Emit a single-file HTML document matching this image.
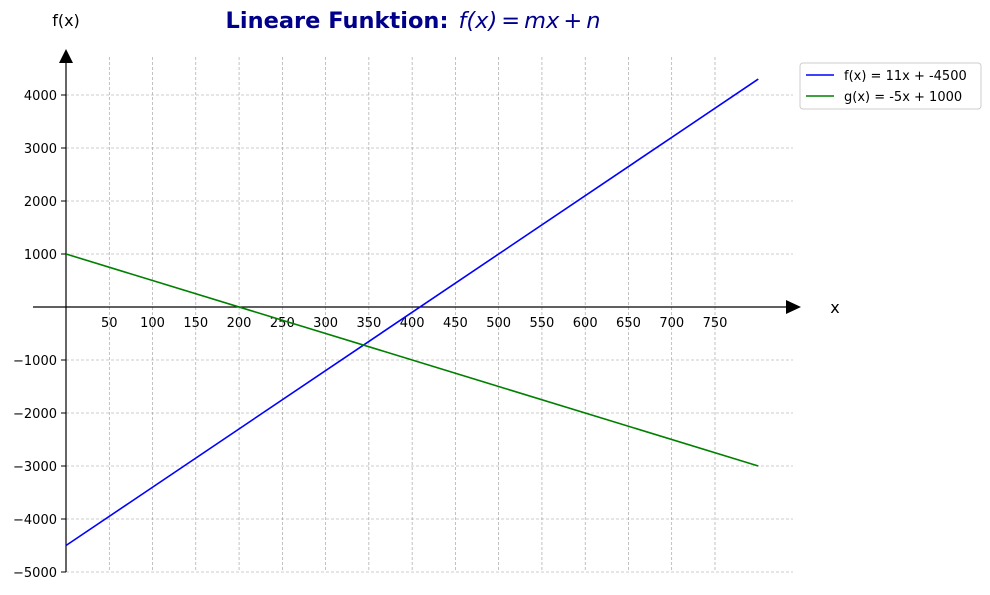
<!DOCTYPE html>
<html><head><meta charset="utf-8"><style>
body{margin:0;background:#fff;width:990px;height:590px;overflow:hidden}
text{font-family:"DejaVu Sans","Liberation Sans",sans-serif}
</style></head><body>
<svg id="chart" width="990" height="590" xmlns="http://www.w3.org/2000/svg">
<g id="grid"></g>
<g id="axes"></g>
<g id="series"></g>
<text x="413" y="28" text-anchor="middle" font-size="22.5" fill="#00008b"><tspan font-weight="bold">Lineare Funktion:</tspan><tspan font-style="italic" dx="10">f(x)</tspan><tspan dx="4">=</tspan><tspan font-style="italic" dx="4">mx</tspan><tspan dx="4">+</tspan><tspan font-style="italic" dx="4">n</tspan></text>
<text x="66" y="26" text-anchor="middle" font-size="16">f(x)</text>
<text x="835" y="313" text-anchor="middle" font-size="16">x</text>
<g>
<rect x="800" y="63" width="181" height="46" rx="3" fill="#fff" stroke="#ccc"/>
<g><line x1="806" y1="75" x2="834" y2="75" stroke="blue" stroke-width="1.5"/><text x="844" y="80" font-size="13">f(x) = 11x + -4500</text></g>
<g><line x1="806" y1="96" x2="834" y2="96" stroke="green" stroke-width="1.5"/><text x="844" y="101" font-size="13">g(x) = -5x + 1000</text></g>
</g>
</svg>
<script>
const xTicks=[50,100,150,200,250,300,350,400,450,500,550,600,650,700,750];
const yTicks=[-5000,-4000,-3000,-2000,-1000,1000,2000,3000,4000];
const slopes=[11,-5];
const intercepts=[-4500,1000];
const seriesColors=["blue","green"];
const xDomain=[0,800];
const NS="http://www.w3.org/2000/svg";
const sx=v=>66+v*(649/750);
const sy=v=>307-v*0.053;
function mk(tag,attrs,parent,txt){const e=document.createElementNS(NS,tag);for(const k in attrs)e.setAttribute(k,attrs[k]);if(txt!==undefined)e.textContent=txt;parent.appendChild(e);return e;}
const grid=document.getElementById('grid'),axes=document.getElementById('axes'),ser=document.getElementById('series');
xTicks.forEach(t=>{
 const l=mk('line',{x1:sx(t),x2:sx(t),y1:57,y2:572,stroke:'#999','stroke-width':0.6,'stroke-dasharray':'3,2'},grid);
 
 
 const tx=mk('text',{x:sx(t),y:327,'text-anchor':'middle','font-size':13},axes,String(t));
 
 
});
yTicks.forEach(t=>{
 const l=mk('line',{x1:66,x2:793,y1:sy(t),y2:sy(t),stroke:'#999','stroke-width':0.6,'stroke-dasharray':'3,2'},grid);
 
 
 mk('line',{x1:61,x2:66,y1:sy(t),y2:sy(t),stroke:'#000','stroke-width':1},axes);
 const tx=mk('text',{x:57,y:sy(t)+5,'text-anchor':'end','font-size':13},axes,(t<0?'\u2212'+(-t):String(t)));
 
 
});
mk('line',{x1:33,x2:790,y1:307,y2:307,stroke:'#000','stroke-width':1.2},axes);
mk('line',{x1:66,x2:66,y1:60,y2:572,stroke:'#000','stroke-width':1.2},axes);
const ax=mk('polygon',{points:'786,300 801,307 786,314',fill:'#000'},axes);


const ay=mk('polygon',{points:'59,63 66,49 73,63',fill:'#000'},axes);


slopes.forEach((m,i)=>{
 const n=intercepts[i];
 const l=mk('line',{x1:sx(xDomain[0]),y1:sy(m*xDomain[0]+n),x2:sx(xDomain[1]),y2:sy(m*xDomain[1]+n),stroke:seriesColors[i],'stroke-width':1.6},ser);
 
 
});
</script>
</body></html>
